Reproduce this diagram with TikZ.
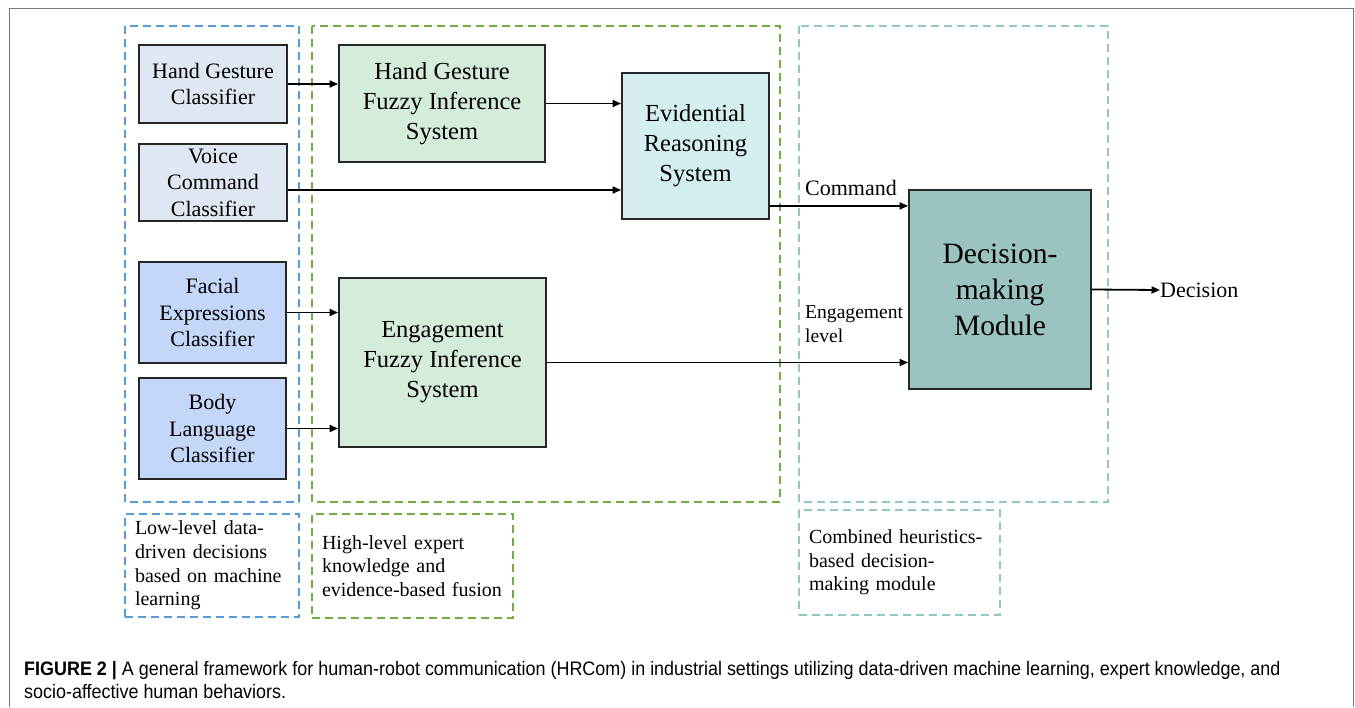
\documentclass[tikz,border=0pt]{standalone}
\usepackage{fontspec}
\setmainfont{Liberation Serif}
\newfontfamily\capfont[FakeStretch=0.92]{Liberation Sans}
\usetikzlibrary{arrows.meta}

\definecolor{grpblue}{HTML}{5B9BD5}
\definecolor{grpgreen}{HTML}{70AD47}
\definecolor{grpteal}{HTML}{92C7C7}
\definecolor{clsA}{HTML}{DEE7F2}
\definecolor{clsB}{HTML}{C4D7F8}
\definecolor{fuzzyfill}{HTML}{D6ECDA}
\definecolor{erfill}{HTML}{D5EFF0}
\definecolor{dmfill}{HTML}{9BC4C0}
\definecolor{framegray}{HTML}{777777}

\begin{document}
\begin{tikzpicture}[x=1pt,y=-1pt,
  blk/.style={draw=black!85, line width=1.8pt, inner sep=0pt, align=center},
  clsfont/.style={font=\fontsize{22}{26.5}\selectfont},
  fisfont/.style={font=\fontsize{24.5}{30}\selectfont},
  dmfont/.style={font=\fontsize{29.5}{36}\selectfont},
  grp/.style={line width=2.4pt, dash pattern=on 8pt off 5pt},
  legend/.style={grp, inner sep=0pt, align=left,
    font=\fontsize{20}{23.7}\selectfont},
  arr/.style={line width=1.8pt, -{Triangle[length=8.5pt,width=7pt]}},
  lbl/.style={inner sep=0pt, anchor=west},
  capline/.style={inner sep=0pt, anchor=base west,
    font=\capfont\fontsize{19.5}{23}\selectfont}
]
\useasboundingbox (0,0) rectangle (1355,707);

% page frame, open at the bottom
\draw[framegray, line width=1.5pt] (9.5,707) -- (9.5,8.5) -- (1353.5,8.5) -- (1353.5,707);

% group frames
\draw[grp, grpblue]  (125,26) rectangle (299,502);
\draw[grp, grpgreen] (312,26) rectangle (780,502);
\draw[grp, grpteal]  (799,26) rectangle (1108,502);

% low-level classifiers
\node[blk, clsfont, fill=clsA, minimum width=148pt, minimum height=78pt] (hgc) at (213,84) {Hand Gesture\\Classifier};
\node[blk, clsfont, fill=clsA, minimum width=148pt, minimum height=77pt] (vcc) at (213,182.5) {Voice\\Command\\Classifier};
\node[blk, clsfont, fill=clsB, minimum width=147pt, minimum height=101pt] (fec) at (212.5,312.5) {Facial\\Expressions\\Classifier};
\node[blk, clsfont, fill=clsB, minimum width=147pt, minimum height=101pt] (blc) at (212.5,428.5) {Body\\Language\\Classifier};

% expert knowledge and fusion
\node[blk, fisfont, fill=fuzzyfill, minimum width=206pt, minimum height=117pt] (hgf) at (442,103.5) {Hand Gesture\\Fuzzy Inference\\System};
\node[blk, fisfont, fill=fuzzyfill, minimum width=207pt, minimum height=169pt] (egf) at (442.5,362.5) {Engagement\\Fuzzy Inference\\System};
\node[blk, fisfont, fill=erfill, minimum width=147pt, minimum height=146pt] (evr) at (695.5,146) {Evidential\\Reasoning\\System};

% decision making
\node[blk, dmfont, fill=dmfill, minimum width=182pt, minimum height=199pt] (dmm) at (1000,289.5) {Decision-\\making\\Module};
\node[lbl, font=\fontsize{22}{26}\selectfont] (out) at (1160,290) {Decision};

% connectors
\draw[arr] (hgc.east) -- (hgc.east -| hgf.west);
\draw[arr] ([yshift=-7.5pt]vcc.east) -- ([yshift=-7.5pt]vcc.east -| evr.west);
\draw[arr] (hgf.east) -- (hgf.east -| evr.west);
\draw[arr] (fec.east) -- (fec.east -| egf.west);
\draw[arr] (blc.east) -- (blc.east -| egf.west);
\draw[arr] ([yshift=14pt]evr.south east) -- ([yshift=14pt]evr.south east -| dmm.west);
\draw[arr] (egf.east) -- (egf.east -| dmm.west);
\draw[arr] (dmm.east) -- (out.west);

% connector labels
\node[lbl, font=\fontsize{22}{26}\selectfont] (cmd) at (805,188) {Command};
\node[lbl, align=left, font=\fontsize{19.6}{24}\selectfont] (eng) at (805,324) {Engagement\\level};

% legends
\node[legend, draw=grpblue, text width=154pt, minimum height=103pt, inner xsep=10pt] (lgA) at (212,565.5)
  {Low-level data-\\driven decisions\\based on machine\\learning};
\node[legend, draw=grpgreen, text width=181pt, minimum height=104pt, inner xsep=10pt] (lgB) at (412.5,566)
  {High-level expert\\knowledge and\\evidence-based fusion};
\node[legend, draw=grpteal, text width=181pt, minimum height=105pt, inner xsep=10pt] (lgC) at (899.5,562.5)
  {Combined heuristics-\\based decision-\\making module};

% caption
\node[capline] (cap1) at (24,675) {\textbf{FIGURE 2 |} A general framework for human-robot communication (HRCom) in industrial settings utilizing data-driven machine learning, expert knowledge, and};
\node[capline] (cap2) at (24,698) {socio-affective human behaviors.};
\end{tikzpicture}
\end{document}
